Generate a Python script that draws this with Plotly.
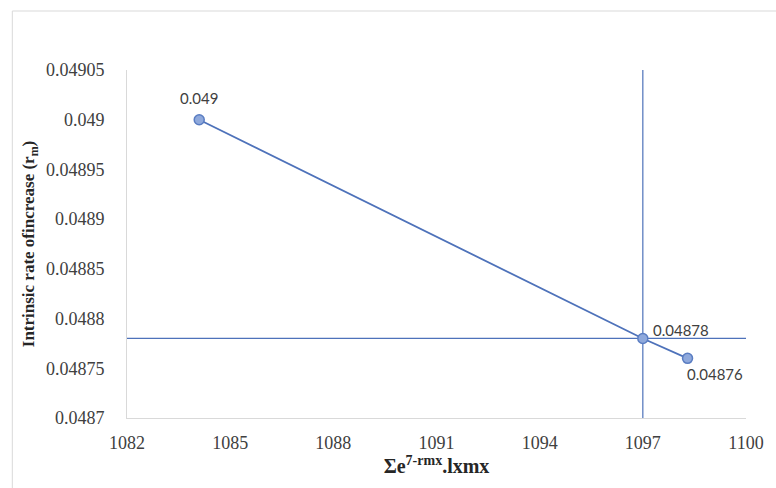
import plotly.graph_objects as go

x_vals = [1084.1, 1097.0, 1098.3]
y_vals = [0.04900, 0.04878, 0.04876]
point_labels = ["0.049", "0.04878", "0.04876"]
x_ticks = [1082, 1085, 1088, 1091, 1094, 1097, 1100]
y_ticks = [0.0487, 0.04875, 0.0488, 0.04885, 0.0489, 0.04895, 0.049, 0.04905]
y_tick_text = ["0.0487", "0.04875", "0.0488", "0.04885", "0.0489", "0.04895", "0.049", "0.04905"]
ref_x = 1097
ref_y = 0.04878
x_range = [1082, 1100]
y_range = [0.0487, 0.04905]

line_col = "#4E72BA"
serif = "Liberation Serif"
tick_font = dict(family=serif, size=18, color="#404040")

fig = go.Figure()
# reference lines
fig.add_trace(go.Scatter(x=x_range, y=[ref_y, ref_y], mode="lines",
                         line=dict(color=line_col, width=1.2), hoverinfo="skip", showlegend=False))
fig.add_trace(go.Scatter(x=[ref_x, ref_x], y=y_range, mode="lines",
                         line=dict(color=line_col, width=1.2), hoverinfo="skip", showlegend=False))
# main series
fig.add_trace(go.Scatter(x=x_vals, y=y_vals, mode="lines+markers",
                         line=dict(color=line_col, width=1.8),
                         marker=dict(size=10, color="#8FA9DC", line=dict(color="#5A7DC2", width=1.5)),
                         showlegend=False))

shifts = [(0, 22, "center"), (8, 8, "left"), (-3, -16, "left")]
for xv, yv, t, (dx, dy, anc) in zip(x_vals, y_vals, point_labels, shifts):
    fig.add_annotation(x=xv, y=yv, text=t, showarrow=False, xanchor=anc, yanchor="middle",
                       xshift=dx, yshift=dy, font=dict(family="Lato", size=15, color="#404040"))

# outer chart border (left/top)
fig.add_shape(type="rect", xref="paper", yref="paper", x0=-0.1853, x1=1.2, y0=-0.5, y1=1.1695,
              line=dict(color="#D9D9D9", width=1), fillcolor="rgba(0,0,0,0)", layer="below")

fig.update_layout(
    width=776, height=488,
    margin=dict(l=127, r=23, t=70, b=70),
    paper_bgcolor="white", plot_bgcolor="white",
    font=dict(family=serif, size=16, color="#404040"),
    xaxis=dict(range=x_range, tickvals=x_ticks, ticktext=[str(v) for v in x_ticks],
               showgrid=False, zeroline=False, showline=True, linecolor="#D9D9D9", linewidth=1,
               ticks="", ticklabelstandoff=8, tickfont=tick_font,
               title=dict(text="<b>Σe<sup>7-rmx</sup>.lxmx</b>", standoff=4,
                          font=dict(family=serif, size=20, color="#262626"))),
    yaxis=dict(range=y_range, tickvals=y_ticks, ticktext=y_tick_text,
               showgrid=False, zeroline=False, showline=True, linecolor="#D9D9D9", linewidth=1,
               ticks="", ticklabelstandoff=18, tickfont=tick_font,
               title=dict(text="<b>Intrinsic rate ofincrease (r<sub>m</sub>)</b>", standoff=6,
                          font=dict(family=serif, size=17, color="#262626"))),
)

fig.write_html("out.html")
